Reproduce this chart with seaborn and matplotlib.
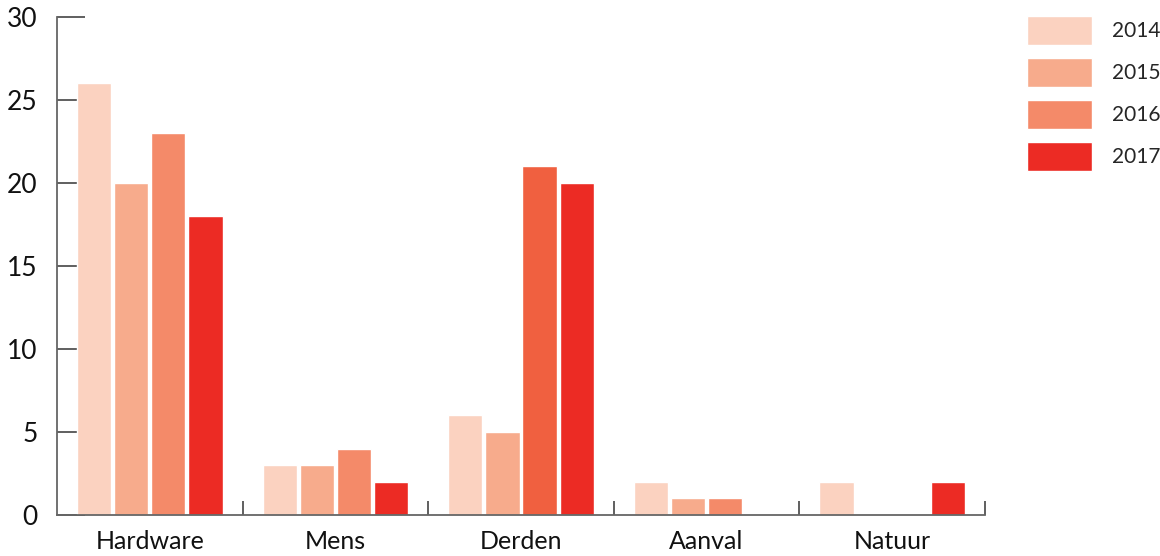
import matplotlib
matplotlib.use("Agg")
import matplotlib.pyplot as plt
import seaborn as sns
import pandas as pd

# data
categories = ["Hardware", "Mens", "Derden", "Aanval", "Natuur"]
years = ["2014", "2015", "2016", "2017"]
values_2014 = [26, 3, 6, 2, 2]
values_2015 = [20, 3, 5, 1, 0]
values_2016 = [23, 4, 21, 1, 0]
values_2017 = [18, 2, 20, 0, 2]
palette = ["#fbd2c0", "#f7ab8c", "#f48a69", "#ec2b24"]
y_ticks = [0, 5, 10, 15, 20, 25, 30]

rows = []
for year, vals in zip(years, [values_2014, values_2015, values_2016, values_2017]):
    for cat, v in zip(categories, vals):
        rows.append({"categorie": cat, "jaar": year, "aantal": v})
df = pd.DataFrame(rows)

sns.set_style("white")
plt.rcParams["font.family"] = ["Lato", "DejaVu Sans"]

fig = plt.figure(figsize=(11.6, 5.56), dpi=100)
ax = fig.add_axes([57 / 1160, 41 / 556, 928 / 1160, 498 / 556])

sns.barplot(data=df, x="categorie", y="aantal", hue="jaar", palette=palette,
            width=0.8, gap=0.08, ax=ax, errorbar=None, saturation=1)

# the 2016 Derden bar is drawn in a slightly deeper tone
ax.containers[2][2].set_facecolor("#f06040")

ax.set_xlim(-0.5, 4.5)
ax.set_ylim(0, 30)
ax.set_yticks(y_ticks)
ax.set_xlabel("")
ax.set_ylabel("")

for s in ["top", "right"]:
    ax.spines[s].set_visible(False)
for s in ["left", "bottom"]:
    ax.spines[s].set_color("#666666")
    ax.spines[s].set_linewidth(1.3)

ax.tick_params(axis="y", left=True, direction="in", length=20, width=1.2,
               color="#444444", labelsize=19, pad=14, labelcolor="#111111")
ax.tick_params(axis="x", which="major", length=0, labelsize=18, pad=11,
               labelcolor="#111111")
ax.set_xticks([0.5, 1.5, 2.5, 3.5, 4.5], minor=True)
ax.tick_params(axis="x", which="minor", bottom=True, direction="in", length=10,
               width=1.2, color="#444444")

ax.legend(loc="upper left", bbox_to_anchor=(1027 / 1160, 1 - 16 / 556),
          bbox_transform=fig.transFigure, frameon=False, fontsize=15,
          handlelength=3.1, handleheight=1.8, labelspacing=0.6,
          handletextpad=1.0, borderpad=0, borderaxespad=0)

fig.savefig("out.png", dpi=100)
